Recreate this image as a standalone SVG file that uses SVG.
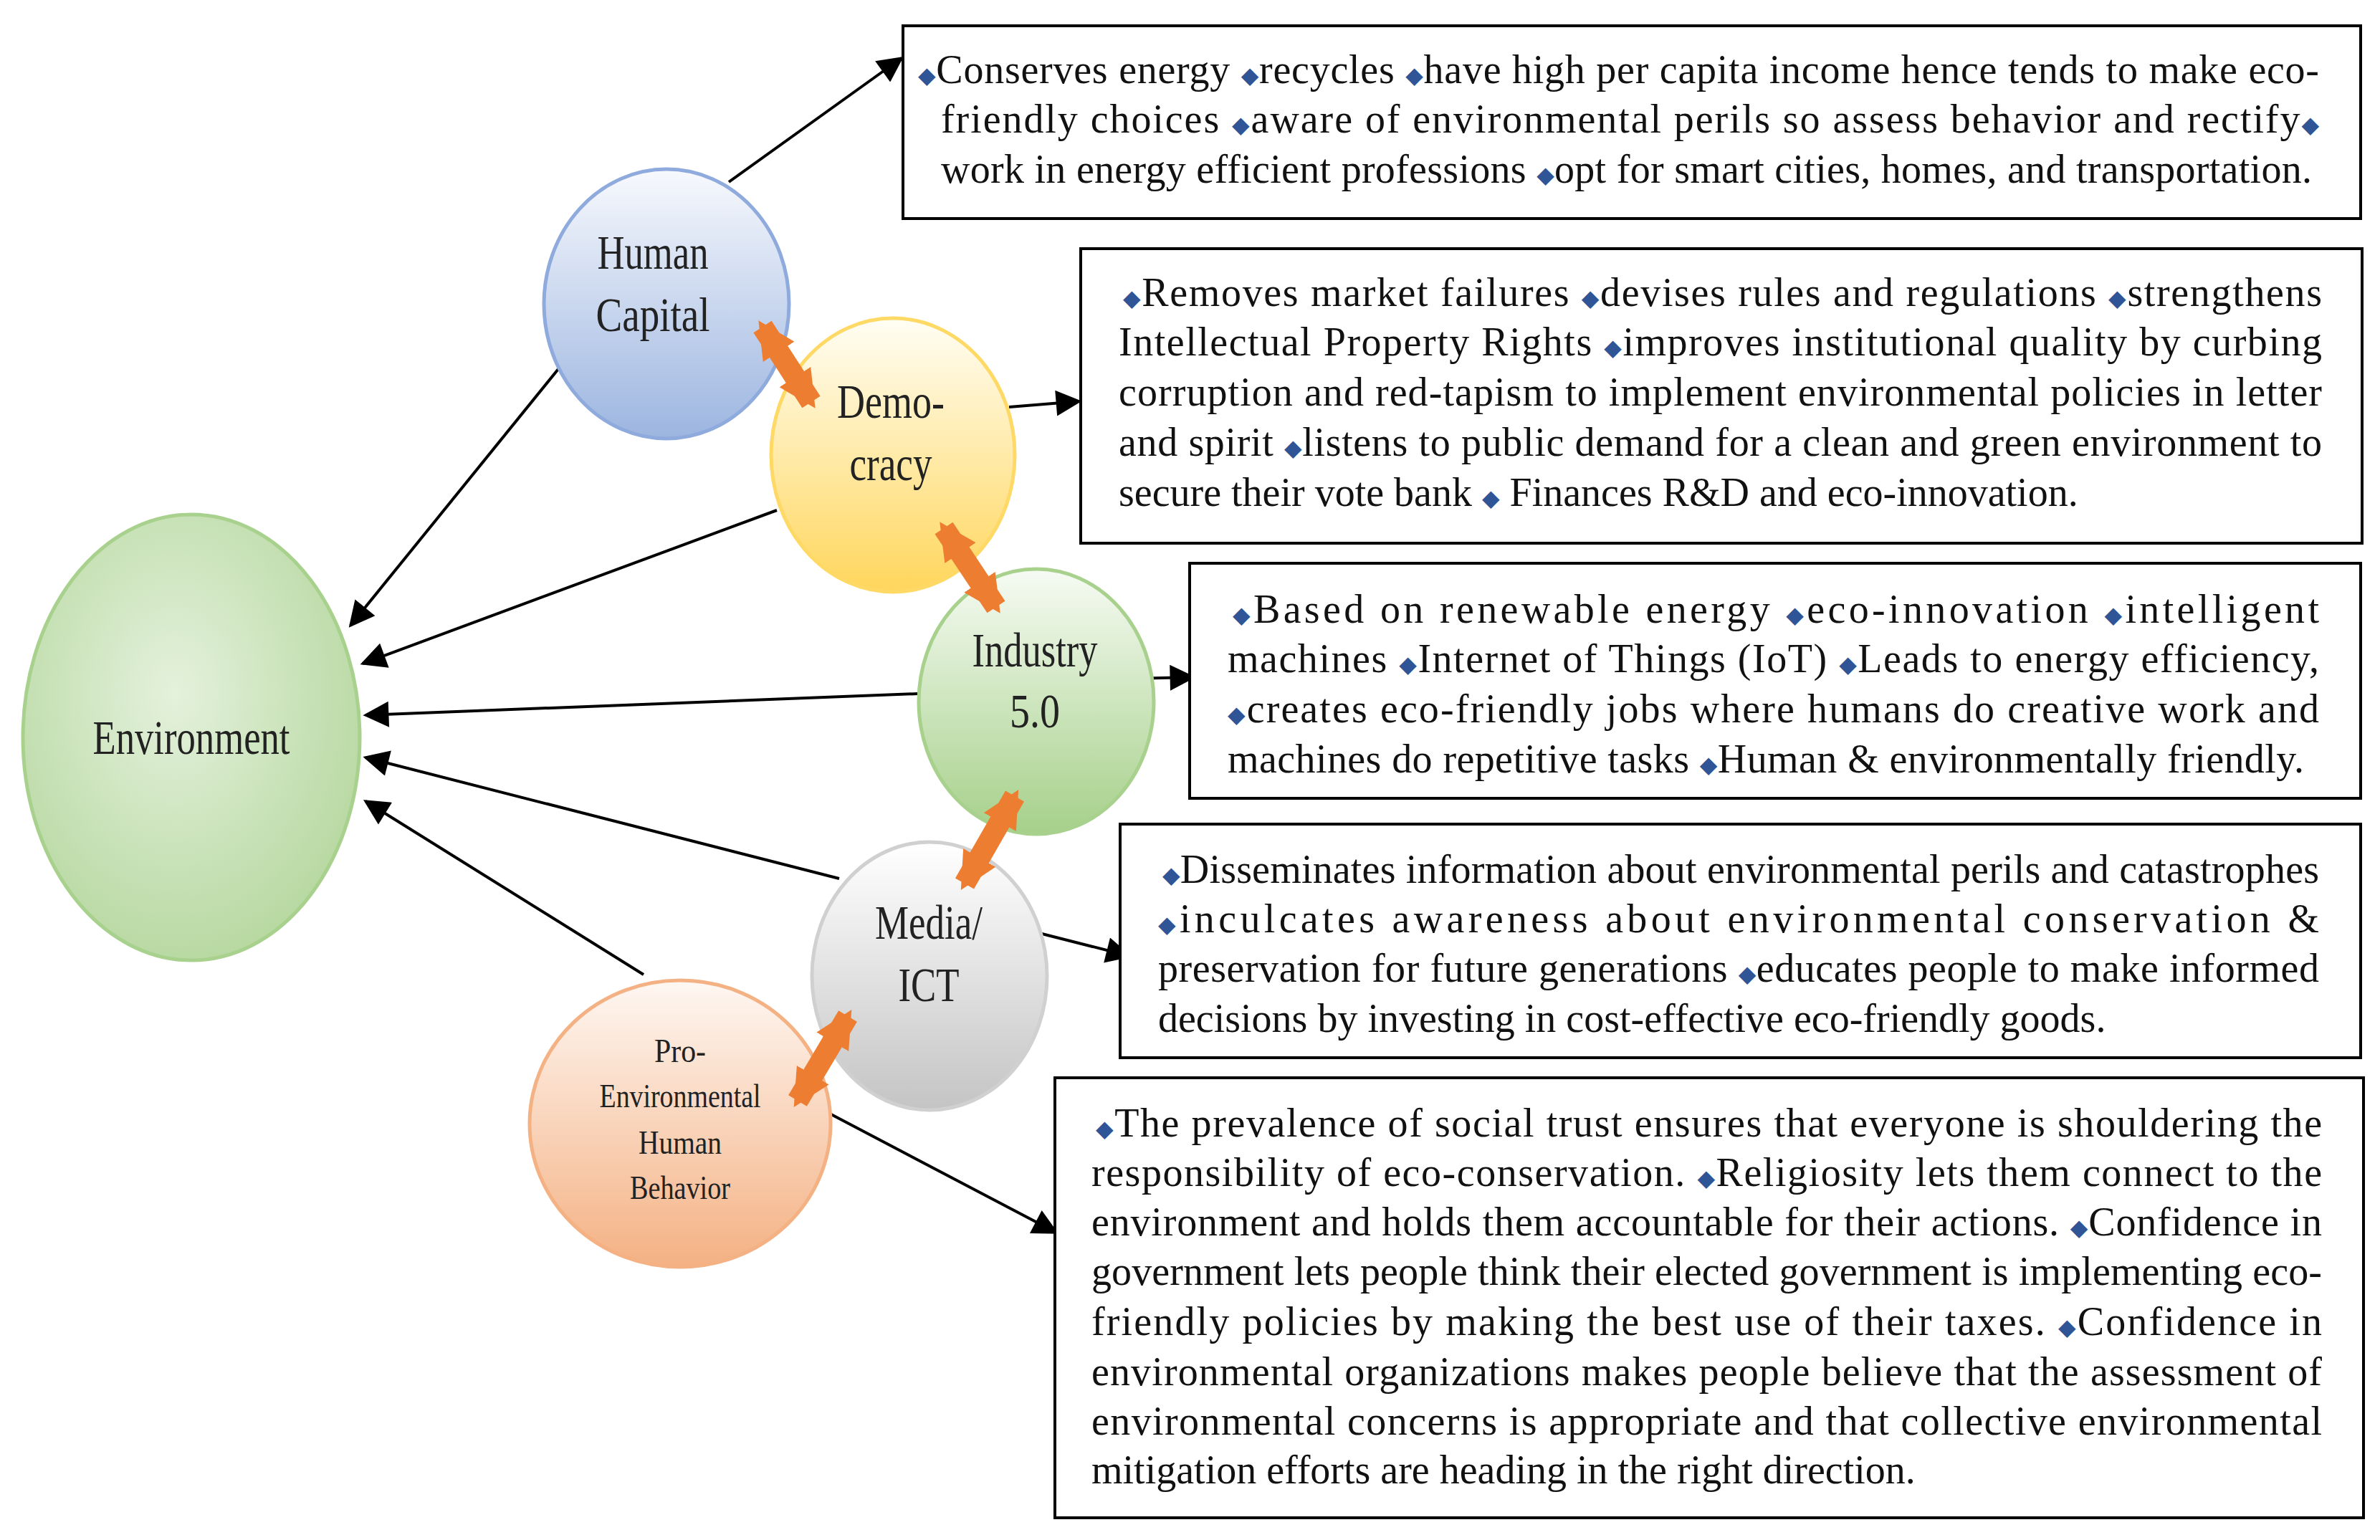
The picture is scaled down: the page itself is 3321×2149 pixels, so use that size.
<svg xmlns="http://www.w3.org/2000/svg" width="3321" height="2149" viewBox="0 0 3321 2149">
<style>
.box{fill:#fff;stroke:#000;stroke-width:4}
.t{font-family:"Liberation Serif",serif;font-size:56px;fill:#111}
.d{font-family:"DejaVu Sans",sans-serif;font-size:32px;fill:#2F5597}
.n{font-family:"Liberation Serif",serif;font-size:68px;fill:#222;text-anchor:middle}
.s{font-family:"Liberation Serif",serif;font-size:46px;fill:#222;text-anchor:middle}
.a{stroke:#000;stroke-width:4;fill:none;marker-end:url(#ah)}
.o{stroke:#ED7D31;stroke-width:30;fill:none;marker-end:url(#oh);marker-start:url(#os)}
</style>
<defs>
<marker id="ah" viewBox="0 0 10 10" refX="9" refY="5" markerWidth="40" markerHeight="36" markerUnits="userSpaceOnUse" orient="auto"><path d="M0,0 L10,5 L0,10 z" fill="#000"/></marker>
<marker id="oh" viewBox="0 0 10 10" refX="8" refY="5" markerWidth="52" markerHeight="70" markerUnits="userSpaceOnUse" orient="auto"><path d="M0,0 L10,5 L0,10 z" fill="#ED7D31"/></marker>
<marker id="os" viewBox="0 0 10 10" refX="2" refY="5" markerWidth="52" markerHeight="70" markerUnits="userSpaceOnUse" orient="auto"><path d="M10,0 L0,5 L10,10 z" fill="#ED7D31"/></marker>
<radialGradient id="gEnv" cx="0.45" cy="0.4" r="0.65"><stop offset="0" stop-color="#E4F1DC"/><stop offset="1" stop-color="#B5D79E"/></radialGradient>
<linearGradient id="gHC" x1="0" y1="0" x2="0" y2="1"><stop offset="0" stop-color="#F7F9FD"/><stop offset="1" stop-color="#9CB5E0"/></linearGradient>
<linearGradient id="gDem" x1="0" y1="0" x2="0" y2="1"><stop offset="0" stop-color="#FFFEF5"/><stop offset="1" stop-color="#FFD65C"/></linearGradient>
<linearGradient id="gInd" x1="0" y1="0" x2="0" y2="1"><stop offset="0" stop-color="#F6FBF3"/><stop offset="1" stop-color="#A6D08A"/></linearGradient>
<linearGradient id="gMed" x1="0" y1="0" x2="0" y2="1"><stop offset="0" stop-color="#FFFFFF"/><stop offset="1" stop-color="#C4C4C4"/></linearGradient>
<linearGradient id="gPro" x1="0" y1="0" x2="0" y2="1"><stop offset="0" stop-color="#FEF7F2"/><stop offset="1" stop-color="#F4B183"/></linearGradient>
</defs>

<g id="connectors">
<line class="a" x1="1017" y1="254" x2="1258" y2="81"/>
<line class="a" x1="1408" y1="568" x2="1506" y2="560"/>
<line class="a" x1="1578" y1="947" x2="1665" y2="945"/>
<line class="a" x1="1442" y1="1300" x2="1576" y2="1334"/>
<line class="a" x1="1154" y1="1552" x2="1474" y2="1720"/>
<line class="a" x1="779" y1="515" x2="489" y2="873"/>
<line class="a" x1="1084" y1="712" x2="506" y2="926"/>
<line class="a" x1="1281" y1="968" x2="510" y2="998"/>
<line class="a" x1="1171" y1="1226" x2="510" y2="1057"/>
<line class="a" x1="898" y1="1360" x2="510" y2="1118"/>
</g>

<g id="env"><ellipse cx="267" cy="1029" rx="235" ry="311" fill="url(#gEnv)" stroke="#A9D18E" stroke-width="5"/><text class="n" x="267" y="1030" dy="22" textLength="275" lengthAdjust="spacingAndGlyphs">Environment</text></g>
<g id="hc"><ellipse cx="930" cy="424" rx="171" ry="188" fill="url(#gHC)" stroke="#8FAADC" stroke-width="5"/><text class="n" x="911" y="375" textLength="155" lengthAdjust="spacingAndGlyphs">Human</text><text class="n" x="911" y="462" textLength="159" lengthAdjust="spacingAndGlyphs">Capital</text></g>
<g id="dem"><ellipse cx="1246" cy="635" rx="170" ry="191" fill="url(#gDem)" stroke="#FFD966" stroke-width="5"/><text class="n" x="1243" y="583" textLength="150" lengthAdjust="spacingAndGlyphs">Demo-</text><text class="n" x="1243" y="670" textLength="115" lengthAdjust="spacingAndGlyphs">cracy</text></g>
<g id="ind"><ellipse cx="1446" cy="979" rx="164" ry="185" fill="url(#gInd)" stroke="#A9D18E" stroke-width="5"/><text class="n" x="1444" y="930" textLength="175" lengthAdjust="spacingAndGlyphs">Industry</text><text class="n" x="1444" y="1015" textLength="70" lengthAdjust="spacingAndGlyphs">5.0</text></g>
<g id="med"><ellipse cx="1297" cy="1362" rx="164" ry="187" fill="url(#gMed)" stroke="#D0D0D0" stroke-width="5"/><text class="n" x="1296" y="1310" textLength="150" lengthAdjust="spacingAndGlyphs">Media/</text><text class="n" x="1296" y="1397" textLength="85" lengthAdjust="spacingAndGlyphs">ICT</text></g>
<g id="pro"><ellipse cx="949" cy="1568" rx="210" ry="200" fill="url(#gPro)" stroke="#F4B183" stroke-width="5"/><text class="s" x="949" y="1482" textLength="72" lengthAdjust="spacingAndGlyphs">Pro-</text><text class="s" x="949" y="1545" textLength="225" lengthAdjust="spacingAndGlyphs">Environmental</text><text class="s" x="949" y="1610" textLength="116" lengthAdjust="spacingAndGlyphs">Human</text><text class="s" x="949" y="1673" textLength="140" lengthAdjust="spacingAndGlyphs">Behavior</text></g>

<g id="orange">
<line class="o" x1="1064" y1="456" x2="1132" y2="561"/>
<line class="o" x1="1317" y1="737" x2="1390" y2="847"/>
<line class="o" x1="1416" y1="1111" x2="1346" y2="1233"/>
<line class="o" x1="1183" y1="1418" x2="1113" y2="1536"/>
</g>

<g id="box1"><rect class="box" x="1260" y="36" width="2034" height="269"/>
<text class="t" x="1281" y="116" textLength="1955" lengthAdjust="spacing"><tspan class="d">◆</tspan>Conserves energy <tspan class="d">◆</tspan>recycles <tspan class="d">◆</tspan>have high per capita income hence tends to make eco-</text>
<text class="t" x="1313" y="185" textLength="1923" lengthAdjust="spacing">friendly choices <tspan class="d">◆</tspan>aware of environmental perils so assess behavior and rectify<tspan class="d">◆</tspan></text>
<text class="t" x="1313" y="255" textLength="1913" lengthAdjust="spacing">work in energy efficient professions <tspan class="d">◆</tspan>opt for smart cities, homes, and transportation.</text></g>

<g id="box2"><rect class="box" x="1508" y="347" width="1788" height="411"/>
<text class="t" x="1567" y="427" textLength="1673" lengthAdjust="spacing"><tspan class="d">◆</tspan>Removes market failures <tspan class="d">◆</tspan>devises rules and regulations <tspan class="d">◆</tspan>strengthens</text>
<text class="t" x="1561" y="496" textLength="1679" lengthAdjust="spacing">Intellectual Property Rights <tspan class="d">◆</tspan>improves institutional quality by curbing</text>
<text class="t" x="1561" y="566" textLength="1679" lengthAdjust="spacing">corruption and red-tapism to implement environmental policies in letter</text>
<text class="t" x="1561" y="636" textLength="1679" lengthAdjust="spacing">and spirit <tspan class="d">◆</tspan>listens to public demand for a clean and green environment to</text>
<text class="t" x="1561" y="706">secure their vote bank <tspan class="d">◆</tspan> Finances R&amp;D and eco-innovation.</text></g>

<g id="box3"><rect class="box" x="1660" y="786" width="1634" height="328"/>
<text class="t" x="1720" y="869" textLength="1516" lengthAdjust="spacing"><tspan class="d">◆</tspan>Based on renewable energy <tspan class="d">◆</tspan>eco-innovation <tspan class="d">◆</tspan>intelligent</text>
<text class="t" x="1713" y="938" textLength="1523" lengthAdjust="spacing">machines <tspan class="d">◆</tspan>Internet of Things (IoT) <tspan class="d">◆</tspan>Leads to energy efficiency,</text>
<text class="t" x="1713" y="1008" textLength="1523" lengthAdjust="spacing"><tspan class="d">◆</tspan>creates eco-friendly jobs where humans do creative work and</text>
<text class="t" x="1713" y="1078" textLength="1502" lengthAdjust="spacing">machines do repetitive tasks <tspan class="d">◆</tspan>Human &amp; environmentally friendly.</text></g>

<g id="box4"><rect class="box" x="1563" y="1150" width="1731" height="326"/>
<text class="t" x="1622" y="1232" textLength="1614" lengthAdjust="spacing"><tspan class="d">◆</tspan>Disseminates information about environmental perils and catastrophes</text>
<text class="t" x="1616" y="1301" textLength="1620" lengthAdjust="spacing"><tspan class="d">◆</tspan>inculcates awareness about environmental conservation &amp;</text>
<text class="t" x="1616" y="1370" textLength="1620" lengthAdjust="spacing">preservation for future generations <tspan class="d">◆</tspan>educates people to make informed</text>
<text class="t" x="1616" y="1440">decisions by investing in cost-effective eco-friendly goods.</text></g>

<g id="box5"><rect class="box" x="1472" y="1504" width="1826" height="614"/>
<text class="t" x="1529" y="1586" textLength="1711" lengthAdjust="spacing"><tspan class="d">◆</tspan>The prevalence of social trust ensures that everyone is shouldering the</text>
<text class="t" x="1523" y="1655" textLength="1717" lengthAdjust="spacing">responsibility of eco-conservation. <tspan class="d">◆</tspan>Religiosity lets them connect to the</text>
<text class="t" x="1523" y="1724" textLength="1717" lengthAdjust="spacing">environment and holds them accountable for their actions. <tspan class="d">◆</tspan>Confidence in</text>
<text class="t" x="1523" y="1793" textLength="1717" lengthAdjust="spacing">government lets people think their elected government is implementing eco-</text>
<text class="t" x="1523" y="1863" textLength="1717" lengthAdjust="spacing">friendly policies by making the best use of their taxes. <tspan class="d">◆</tspan>Confidence in</text>
<text class="t" x="1523" y="1933" textLength="1717" lengthAdjust="spacing">environmental organizations makes people believe that the assessment of</text>
<text class="t" x="1523" y="2002" textLength="1717" lengthAdjust="spacing">environmental concerns is appropriate and that collective environmental</text>
<text class="t" x="1523" y="2070">mitigation efforts are heading in the right direction.</text></g>
</svg>
